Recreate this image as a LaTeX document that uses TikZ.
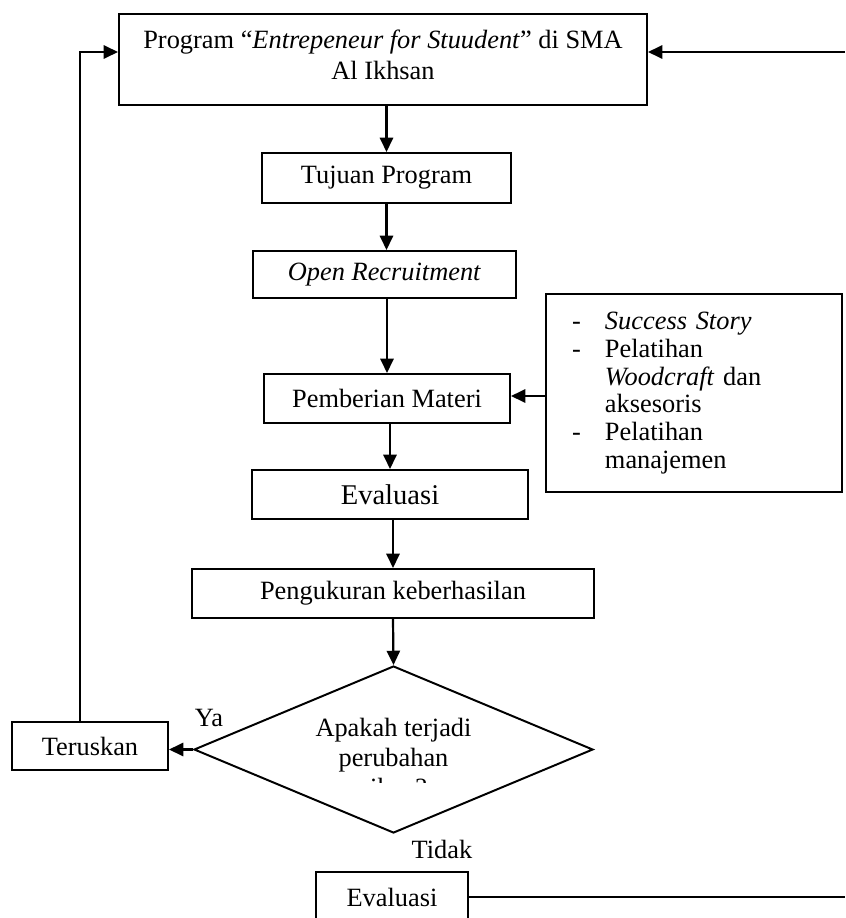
\documentclass[tikz,border=0pt]{standalone}
\usepackage{fontspec}
\setmainfont{Liberation Serif}
\usetikzlibrary{arrows.meta,shapes.geometric}
\newcommand{\pxu}{0.455pt}
\newcommand{\butir}{\makebox[15pt][l]{-}}
\newcommand{\sambung}{\hspace*{15pt}}

\begin{document}
\begin{tikzpicture}[x=\pxu,y=-\pxu,
    kotak/.style={draw,line width=0.9pt,rectangle,inner sep=0pt,font=\fontsize{12}{13.8}\selectfont},
    teks/.style={font=\fontsize{12}{13.8}\selectfont,align=center},
    panah/.style={line width=1pt,-{Triangle[length=6.5pt,width=6pt]}},
    garis/.style={line width=1pt}]
    \clip (0,0) rectangle (845,918);
    % kotak-kotak alur
    \node[kotak,minimum width=528*\pxu,minimum height=91*\pxu] (prog) at (383,59.5) {};
    \node[teks] (progteks) at (383,55) {Program “\textit{Entrepeneur for Stuudent}” di SMA\\Al Ikhsan};
    \node[kotak,minimum width=249*\pxu,minimum height=50*\pxu] (tujuan) at (386.5,178) {Tujuan Program};
    \node[kotak,minimum width=263*\pxu,minimum height=47*\pxu] (open) at (384.5,274.5) {\textit{Open Recruitment}};
    \node[kotak,minimum width=246*\pxu,minimum height=49*\pxu] (materi) at (387,398.5) {Pemberian Materi};
    \node[kotak,align=left,text width=111pt,inner xsep=11.8pt,minimum height=198*\pxu,font=\fontsize{12}{12.65}\selectfont] (daftar) at (694,393)
        {\butir\textit{Success Story}\\\butir Pelatihan\\\sambung\textit{Woodcraft} dan\\\sambung aksesoris\\\butir Pelatihan\\\sambung manajemen};
    \node[kotak,minimum width=276*\pxu,minimum height=49*\pxu,font=\fontsize{13}{15}\selectfont] (evala) at (390,494.5) {Evaluasi};
    \node[kotak,minimum width=402*\pxu,minimum height=49*\pxu] (ukur) at (393,593.5) {Pengukuran keberhasilan};
    % keputusan
    \node[draw,line width=0.9pt,diamond,minimum width=399*\pxu,minimum height=167*\pxu,inner sep=0pt] (tanya) at (393.5,749.5) {};
    \begin{scope}
        \clip (194,690) rectangle (593,782);
        \node[teks] (tanyateks) at (393.5,760) {Apakah terjadi\\perubahan\\sikap?};
    \end{scope}
    \node[kotak,minimum width=156*\pxu,minimum height=48*\pxu] (terus) at (90,746) {Teruskan};
    \node[teks] (ya) at (209,718) {Ya};
    \node[teks] (tidak) at (442,849) {Tidak};
    \node[kotak,minimum width=152*\pxu,minimum height=50*\pxu] (evalb) at (392,897) {Evaluasi};
    % panah
    \coordinate (kiri) at (80,52);
    \coordinate (kanan) at (845,52);
    \draw[panah] (kiri |- terus.north) -- (kiri) -- (kiri -| prog.west);
    \draw[panah] (kanan) -- (kanan -| prog.east);
    \draw[panah] (prog.south -| tujuan.north) -- (tujuan.north);
    \draw[panah] (tujuan.south) -- (tujuan.south |- open.north);
    \draw[panah] (open.south -| materi.north) -- (materi.north);
    \draw[panah] (daftar.west |- 0,396) -- (materi.east |- 0,396);
    \draw[panah] (materi.south -| evala.north) -- (evala.north);
    \draw[panah] (evala.south -| ukur.north) -- (ukur.north);
    \draw[panah] (ukur.south) -- (tanya.north);
    \draw[panah] (tanya.west) -- (tanya.west -| terus.east);
    \draw[garis] (evalb.east) -- (evalb.east -| kanan);
\end{tikzpicture}
\end{document}
